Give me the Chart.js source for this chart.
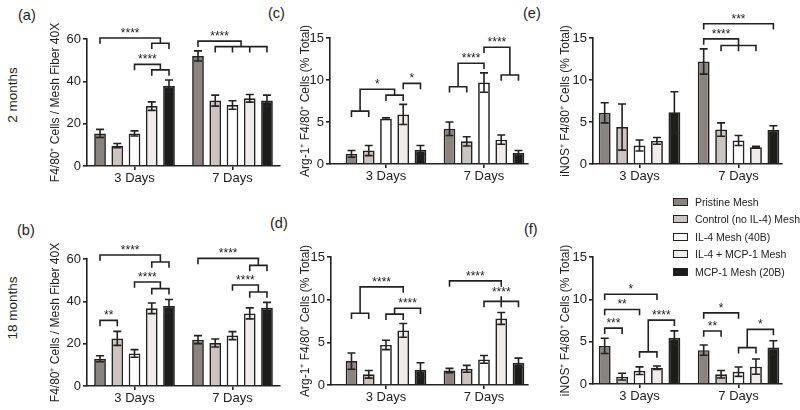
<!DOCTYPE html>
<html>
<head>
<meta charset="utf-8">
<title>Macrophage panels</title>
<script src="https://cdn.jsdelivr.net/npm/chart.js@4.4.1/dist/chart.umd.min.js"></script>
<style>
  body { margin: 0; background: #fff; }
  #wrap { position: relative; width: 800px; height: 410px; overflow: hidden;
          font-family: "Liberation Sans", Arial, sans-serif; color: #222; }
  canvas { position: absolute; }
  .tag { position: absolute; font-size: 14.5px; line-height: 16px; }
  .row { position: absolute; width: 100px; text-align: center; font-size: 13.5px;
         line-height: 16px; transform: rotate(-90deg); }
  #legend { position: absolute; left: 673px; top: 193px; z-index: 2; font-size: 10.5px; }
  #legend div { height: 17.5px; display: flex; align-items: center; white-space: nowrap; }
  #legend span { box-sizing: border-box; width: 15px; height: 8px; border: 1.7px solid #222; margin-right: 7px; }
</style>
</head>
<body>
<div id="wrap">
  <div class="tag" style="left:18px;top:7px">(a)</div>
  <div class="tag" style="left:17px;top:222px">(b)</div>
  <div class="tag" style="left:268px;top:5px">(c)</div>
  <div class="tag" style="left:270px;top:215px">(d)</div>
  <div class="tag" style="left:523px;top:5px">(e)</div>
  <div class="tag" style="left:524px;top:221px">(f)</div>
  <div class="row" style="left:-37px;top:87px">2 months</div>
  <div class="row" style="left:-37px;top:300px">18 months</div>
  <div id="legend"></div>
</div>
<script>
const ink = '#222';
const days = ['3 Days', '7 Days'];
const meshes = ['Pristine Mesh', 'Control (no IL-4) Mesh', 'IL-4 Mesh (40B)', 'IL-4 + MCP-1 Mesh', 'MCP-1 Mesh (20B)'];
const meshColors = ['#8b837f', '#ccc4c0', '#ffffff', '#efeceb', '#1c1c1a'];

// one row per mesh: [3 days, 7 days]
const cells2mo = [[15.4, 52.0], [9.6, 30.9], [15.4, 28.8], [28.3, 32.0], [37.8, 30.9]];
const cells2moErr = [[1.9, 2.4], [1.0, 2.6], [1.2, 2.0], [2.0, 1.8], [2.8, 2.6]];
const cells18mo = [[12.9, 21.9], [22.5, 20.3], [15.4, 23.8], [36.7, 34.3], [37.8, 37.0]];
const cells18moErr = [[1.4, 1.9], [3.3, 1.9], [1.8, 1.9], [2.5, 2.6], [3.1, 2.5]];
const arg2mo = [[1.2, 4.2], [1.6, 2.7], [5.4, 9.7], [5.9, 2.9], [1.7, 1.3]];
const arg2moErr = [[0.4, 0.8], [0.6, 0.55], [0.1, 1.15], [1.2, 0.55], [0.5, 0.3]];
const arg18mo = [[2.8, 1.7], [1.25, 1.9], [4.7, 3.0], [6.4, 7.8], [1.75, 2.6]];
const arg18moErr = [[0.95, 0.25], [0.45, 0.4], [0.55, 0.45], [0.8, 0.7], [0.85, 0.55]];
const inos2mo = [[6.1, 12.2], [4.4, 4.1], [2.2, 2.8], [2.75, 2.0], [6.15, 4.05]];
const inos2moErr = [[1.2, 1.5], [2.75, 0.8], [0.65, 0.6], [0.4, 0.1], [2.45, 0.5]];
const inos18mo = [[4.5, 4.0], [0.87, 1.15], [1.57, 1.45], [1.93, 2.05], [5.47, 4.3]];
const inos18moErr = [[0.9, 0.6], [0.4, 0.45], [0.45, 0.55], [0.2, 0.9], [0.8, 0.8]];

// significance brackets: a/b = mesh indexes on each side (a group gets its own
// sub-bracket at ya/yb), y = height of the joining line, day = 0 or 1
const sigCells2mo = [
  { day: 0, a: [0], b: [3, 4], yb: 58, y: 60.5, label: '****' },
  { day: 0, a: [2], b: [3, 4], yb: 45.4, y: 48, label: '****' },
  { day: 1, a: [0], b: [1, 2, 3, 4], yb: 56.4, y: 59, label: '****' }
];
const sigCells18mo = [
  { day: 0, a: [0], b: [3, 4], yb: 58.6, y: 61.9, label: '****' },
  { day: 0, a: [2], b: [3, 4], yb: 46, y: 49.1, label: '****' },
  { day: 0, a: [0], b: [1], y: 31, label: '**' },
  { day: 1, a: [0], b: [3, 4], yb: 57, y: 60.3, label: '****' },
  { day: 1, a: [2], b: [3, 4], yb: 44.4, y: 47.7, label: '****' }
];
const sigArg2mo = [
  { day: 0, a: [0, 1], ya: 6.3, b: [2, 3], yb: 8.2, y: 8.9, label: '*' },
  { day: 0, a: [3], b: [4], y: 9.6, label: '*' },
  { day: 1, a: [0, 1], ya: 9.2, b: [2], y: 12.0, label: '****' },
  { day: 1, a: [2], b: [3, 4], yb: 10.6, y: 13.9, label: '****' }
];
const sigArg18mo = [
  { day: 0, a: [0, 1], ya: 8.4, b: [3], y: 11.5, label: '****' },
  { day: 0, a: [2, 3], ya: 8.3, b: [4], y: 9.0, label: '****' },
  { day: 1, a: [0], b: [3], y: 12.2, label: '****' },
  { day: 1, a: [2, 3, 4], ya: 9.8, b: null, y: 10.3, label: '****' }
];
const sigInos2mo = [
  { day: 1, a: [0], b: [4], y: 16.7, label: '***' },
  { day: 1, a: [0], b: [1, 2, 3], yb: 14.1, y: 14.9, label: '****' }
];
const sigInos18mo = [
  { day: 0, a: [0], b: [3], y: 10.6, label: '*' },
  { day: 0, a: [0], b: [2], y: 8.8, label: '**' },
  { day: 0, a: [0], b: [1], y: 6.6, label: '***' },
  { day: 0, a: [2, 3], ya: 3.8, b: [4], y: 7.55, label: '****' },
  { day: 1, a: [0], b: [2], y: 8.4, label: '*' },
  { day: 1, a: [0], b: [1], y: 6.26, label: '**' },
  { day: 1, a: [2, 3], ya: 4.3, b: [4], y: 6.45, label: '*' }
];

const titleCells = 'F4/80\u207A Cells / Mesh Fiber 40X';
const titleArg = 'Arg-1\u207A F4/80\u207A Cells (% Total)';
const titleInos = 'iNOS\u207A F4/80\u207A Cells (% Total)';

// legend
const legend = document.getElementById('legend');
meshes.forEach((name, i) => {
  const row = document.createElement('div');
  const box = document.createElement('span');
  box.style.background = meshColors[i];
  row.appendChild(box);
  row.appendChild(document.createTextNode(name));
  legend.appendChild(row);
});

function errorBars(errs) {
  return {
    id: 'errorBars',
    afterDatasetsDraw(chart) {
      const ctx = chart.ctx, ys = chart.scales.y;
      ctx.save();
      ctx.strokeStyle = ink;
      ctx.lineWidth = 1.6;
      chart.data.datasets.forEach((ds, i) => {
        chart.getDatasetMeta(i).data.forEach((bar, j) => {
          const v = ds.data[j].y, e = errs[i][j];
          const top = ys.getPixelForValue(v + e), bot = ys.getPixelForValue(v - e);
          ctx.beginPath();
          ctx.moveTo(bar.x, top); ctx.lineTo(bar.x, bot);
          ctx.moveTo(bar.x - 4, top); ctx.lineTo(bar.x + 4, top);
          ctx.moveTo(bar.x - 4, bot); ctx.lineTo(bar.x + 4, bot);
          ctx.stroke();
        });
      });
      ctx.restore();
    }
  };
}

function brackets(list) {
  return {
    id: 'brackets',
    afterDraw(chart) {
      const ctx = chart.ctx, ys = chart.scales.y;
      const leg = 5;
      const py = v => ys.getPixelForValue(v);
      const line = (x1, y1, x2, y2) => { ctx.moveTo(x1, y1); ctx.lineTo(x2, y2); };
      // draws one side of a bracket, returns the x where it meets the main line
      const side = (bars, sub, day, yMain) => {
        const xs = bars.map(b => chart.getDatasetMeta(b).data[day].x);
        if (bars.length === 1) {
          line(xs[0], py(yMain), xs[0], py(yMain) + leg);
          return xs[0];
        }
        const ySub = py(sub), first = xs[0], last = xs[xs.length - 1];
        const mid = (first + last) / 2;
        line(first, ySub, last, ySub);
        xs.forEach(x => line(x, ySub, x, ySub + leg));
        line(mid, ySub, mid, py(yMain));
        return mid;
      };
      ctx.save();
      ctx.strokeStyle = ink;
      ctx.fillStyle = ink;
      ctx.lineWidth = 1.6;
      ctx.lineCap = 'square';
      ctx.font = '12px "Liberation Sans", Arial, sans-serif';
      ctx.textAlign = 'center';
      ctx.textBaseline = 'alphabetic';
      list.forEach(s => {
        ctx.beginPath();
        const xa = side(s.a, s.ya, s.day, s.y);
        let xLabel = xa;
        if (s.b) {
          const xb = side(s.b, s.yb, s.day, s.y);
          line(xa, py(s.y), xb, py(s.y));
          xLabel = (xa + xb) / 2;
        }
        ctx.stroke();
        ctx.fillText(s.label, xLabel, py(s.y) - 1);
      });
      ctx.restore();
    }
  };
}

const panels = [
  { values: cells2mo, errs: cells2moErr, sig: sigCells2mo, title: titleCells, yMax: 60, yStep: 20,
    left: 48, top: 0, width: 236, height: 200, padTop: 39, padRight: 4, yW: 39, xH: 34, xMin: 0.515, xMax: 2.485 },
  { values: cells18mo, errs: cells18moErr, sig: sigCells18mo, title: titleCells, yMax: 60, yStep: 20,
    left: 48, top: 200, width: 236, height: 210, padTop: 59, padRight: 4, yW: 39, xH: 24, xMin: 0.515, xMax: 2.485 },
  { values: arg2mo, errs: arg2moErr, sig: sigArg2mo, title: titleArg, yMax: 15, yStep: 5,
    left: 298, top: 0, width: 237, height: 200, padTop: 38, padRight: 7, yW: 32, xH: 36, xMin: 0.429, xMax: 2.449 },
  { values: arg18mo, errs: arg18moErr, sig: sigArg18mo, title: titleArg, yMax: 15, yStep: 5,
    left: 298, top: 200, width: 237, height: 210, padTop: 57, padRight: 7, yW: 33, xH: 25, xMin: 0.439, xMax: 2.449 },
  { values: inos2mo, errs: inos2moErr, sig: sigInos2mo, title: titleInos, yMax: 15, yStep: 5,
    left: 558, top: 0, width: 242, height: 200, padTop: 38, padRight: 18, yW: 35, xH: 36, xMin: 0.53, xMax: 2.439 },
  { values: inos18mo, errs: inos18moErr, sig: sigInos18mo, title: titleInos, yMax: 15, yStep: 5,
    left: 558, top: 200, width: 242, height: 210, padTop: 57, padRight: 18, yW: 35, xH: 26, xMin: 0.53, xMax: 2.439 }
];

const wrap = document.getElementById('wrap');
const font = '"Liberation Sans", Arial, sans-serif';
Chart.defaults.font.family = font;

panels.forEach(p => {
  const canvas = document.createElement('canvas');
  canvas.width = p.width;
  canvas.height = p.height;
  canvas.style.left = p.left + 'px';
  canvas.style.top = p.top + 'px';
  canvas.style.width = p.width + 'px';
  canvas.style.height = p.height + 'px';
  wrap.appendChild(canvas);

  const axisGrid = { drawOnChartArea: false, drawTicks: true, tickLength: 4, color: ink, lineWidth: 1.6, offset: false };
  const axisBorder = { color: ink, width: 1.6 };

  new Chart(canvas, {
    type: 'bar',
    data: {
      datasets: meshes.map((name, i) => ({
        label: name,
        data: p.values[i].map((v, d) => ({ x: d + 1, y: v })),
        backgroundColor: meshColors[i],
        borderColor: ink,
        borderWidth: 1.7,
        categoryPercentage: 0.88,
        barPercentage: 0.68
      }))
    },
    options: {
      responsive: false,
      animation: false,
      devicePixelRatio: 1,
      layout: { padding: { top: p.padTop, right: p.padRight, left: 0, bottom: 0 } },
      plugins: { legend: { display: false }, tooltip: { enabled: false } },
      scales: {
        x: {
          type: 'linear',
          min: p.xMin,
          max: p.xMax,
          offset: false,
          grid: axisGrid,
          border: axisBorder,
          afterBuildTicks: axis => { axis.ticks = days.map((d, i) => ({ value: i + 1 })); },
          ticks: { callback: v => days[v - 1], font: { size: 13 }, color: ink, padding: 1, maxRotation: 0, autoSkip: false },
          afterFit: s => { s.height = p.xH; }
        },
        y: {
          min: 0,
          max: p.yMax,
          ticks: { stepSize: p.yStep, font: { size: 13 }, color: ink, padding: 2 },
          grid: axisGrid,
          border: axisBorder,
          title: { display: true, text: p.title, font: { size: 12 }, color: ink, padding: 0 },
          afterFit: s => { s.width = p.yW; }
        }
      }
    },
    plugins: [errorBars(p.errs), brackets(p.sig)]
  });
});
</script>
</body>
</html>
